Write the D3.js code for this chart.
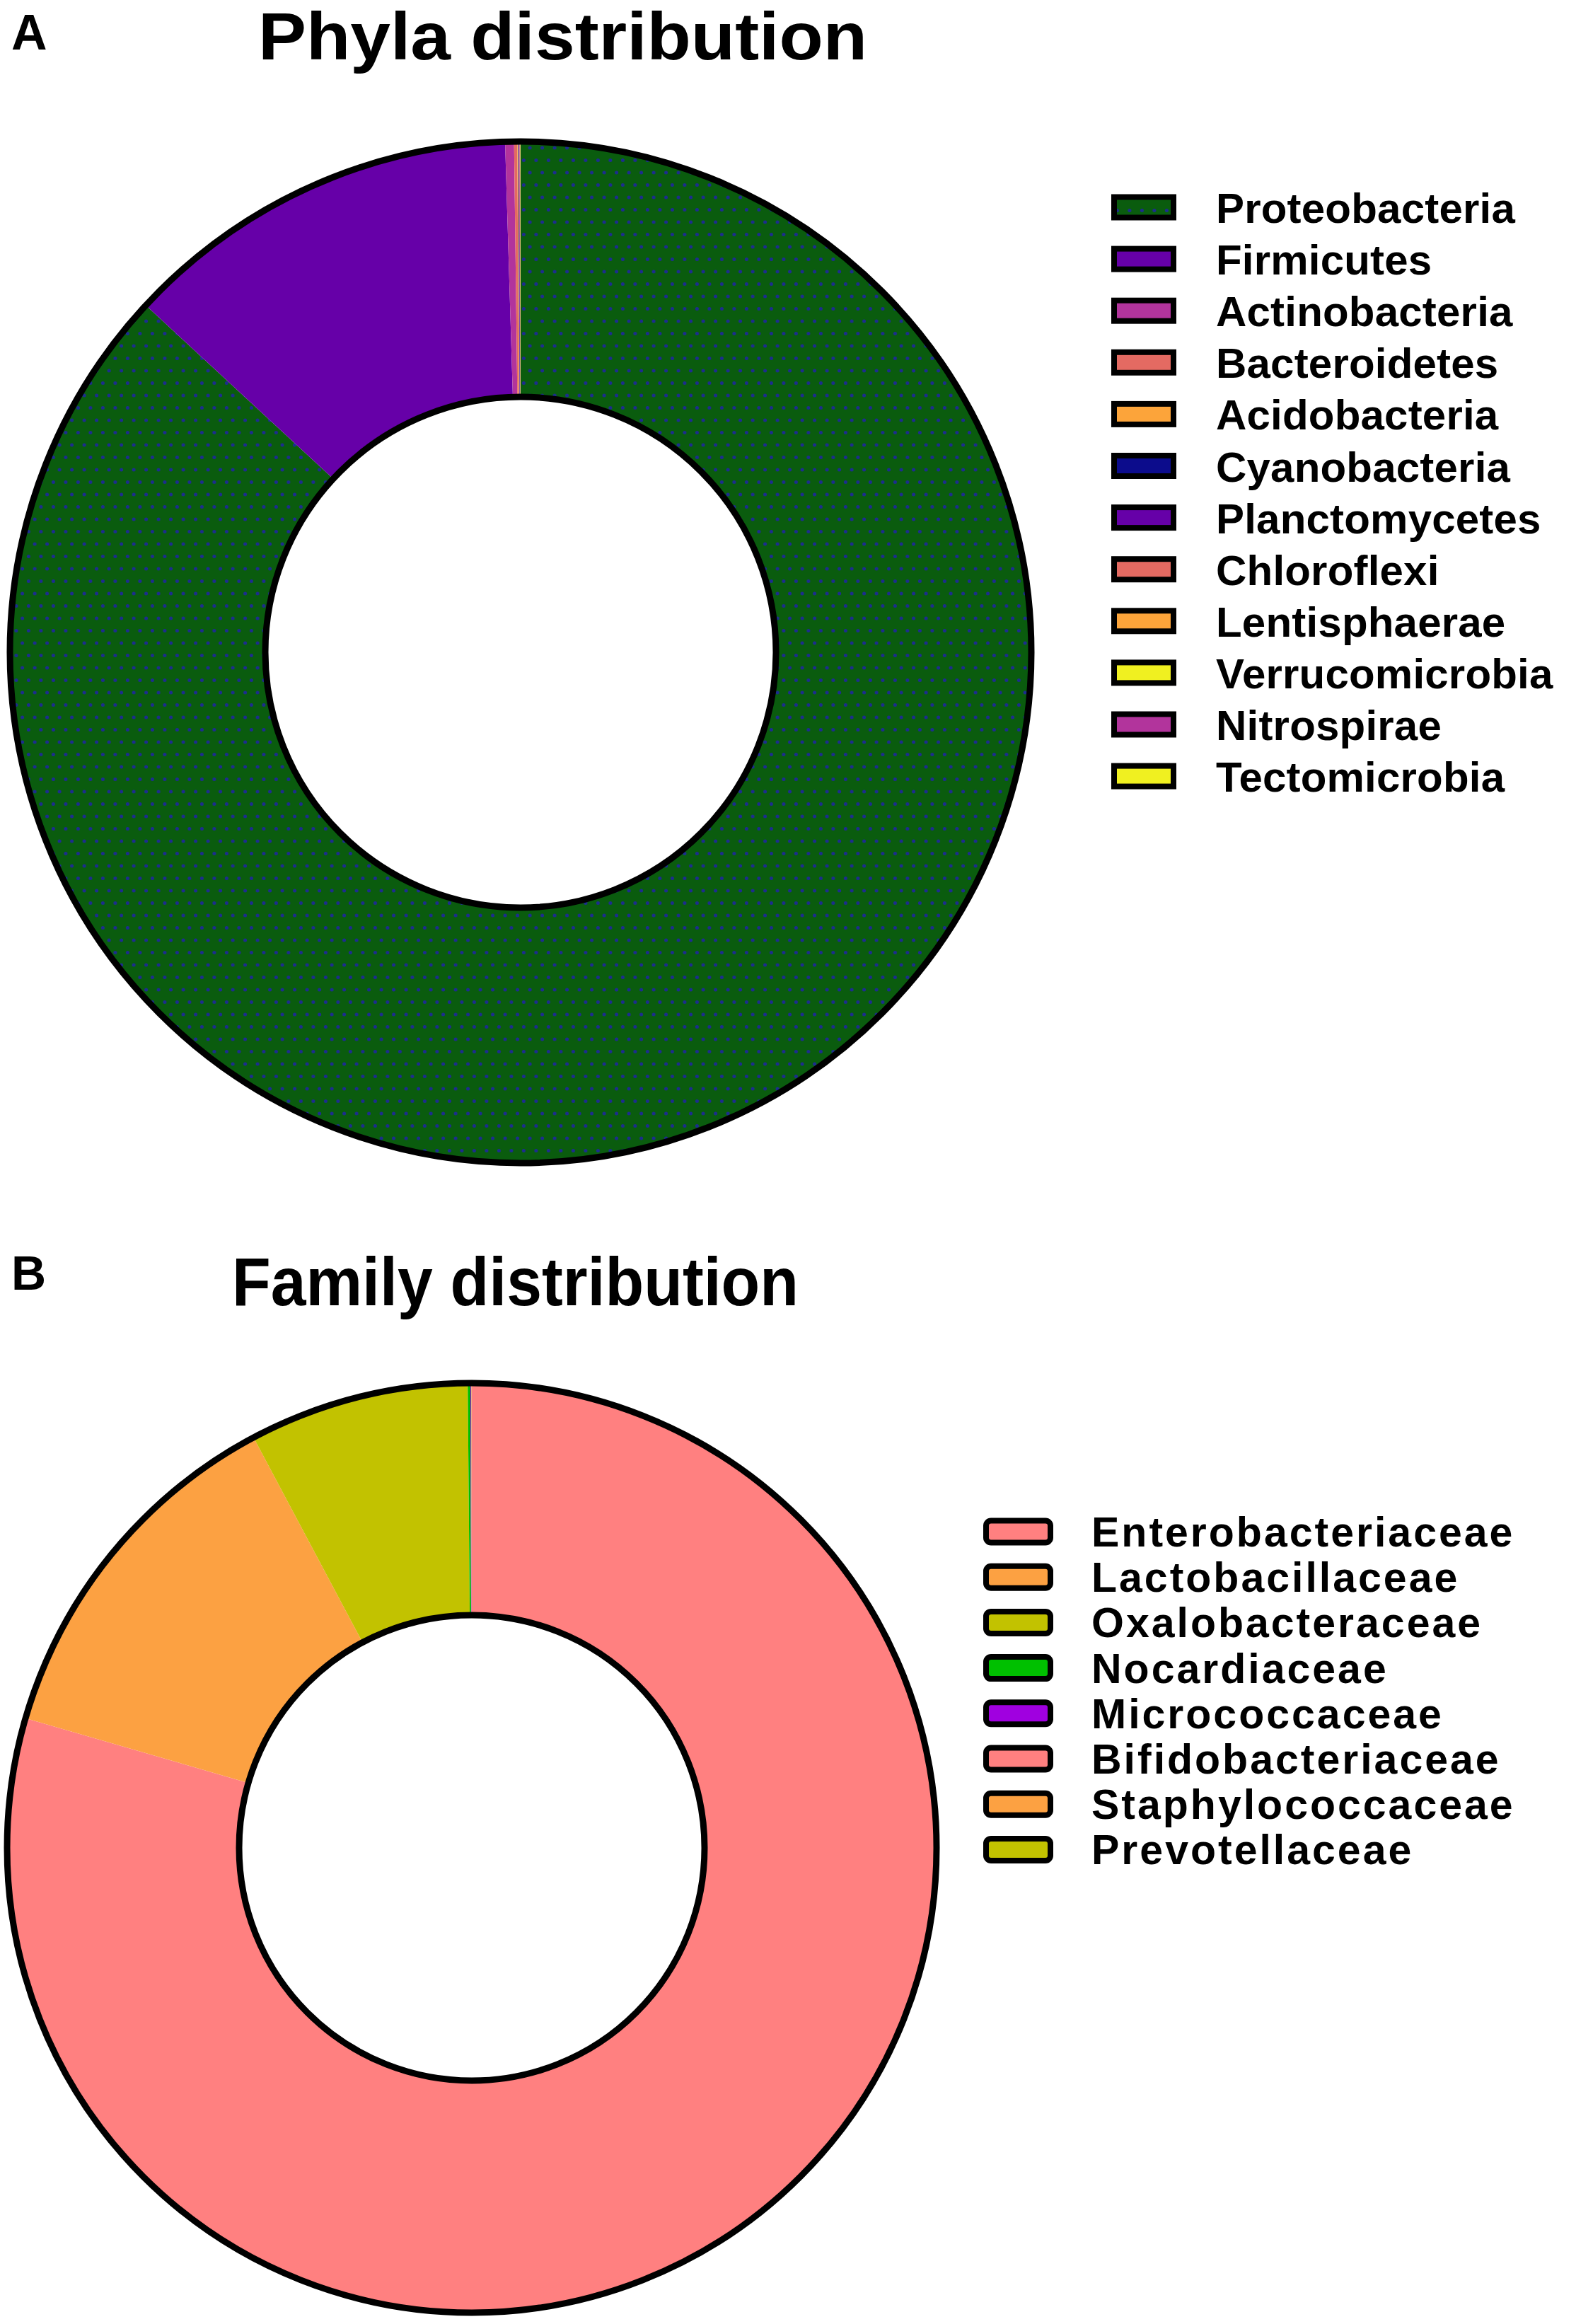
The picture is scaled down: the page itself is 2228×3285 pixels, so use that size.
<!DOCTYPE html>
<html>
<head>
<meta charset="utf-8">
<script src="https://cdn.jsdelivr.net/npm/d3@7"></script>
<style>body{margin:0;background:#fff}</style>
</head>
<body>
<script>
var width = 2228;
var height = 3285;

// panel A: phyla (percent of reads)
var phyla = ["Proteobacteria", "Firmicutes", "Actinobacteria", "Bacteroidetes", "Acidobacteria",
  "Cyanobacteria", "Planctomycetes", "Chloroflexi", "Lentisphaerae", "Verrucomicrobia",
  "Nitrospirae", "Tectomicrobia"];
var phylaValues = [86.875, 12.63, 0.28, 0.1, 0.03, 0.02, 0.02, 0.01, 0.01, 0.005, 0.005, 0.005];
var phylaColors = ["url(#dots)", "#6600a8", "#b2349c", "#e46a62", "#fca43a", "#0c0c8c",
  "#6600a8", "#e46a62", "#fca43a", "#f0f020", "#b2349c", "#f0f020"];

// panel B: families
var families = ["Enterobacteriaceae", "Lactobacillaceae", "Oxalobacteraceae", "Nocardiaceae",
  "Micrococcaceae", "Bifidobacteriaceae", "Staphylococcaceae", "Prevotellaceae"];
var familyValues = [79.5, 12.72, 7.64, 0.09, 0.03, 0.01, 0.005, 0.005];
var familyColors = ["#ff8080", "#fca142", "#c2c200", "#00c000", "#a000e0", "#ff8080", "#fca142", "#c2c200"];

var font = "'Liberation Sans', Arial, Helvetica, sans-serif";

var svg = d3.select("body")
    .append("svg")
    .attr("width", width)
    .attr("height", height);

// dotted fill used for Proteobacteria
var pat = svg.append("defs").append("pattern")
    .attr("id", "dots")
    .attr("patternUnits", "userSpaceOnUse")
    .attr("width", 17.5)
    .attr("height", 35);
pat.append("rect").attr("width", 17.5).attr("height", 35).attr("fill", "#0a5c0e");
pat.append("circle").attr("cx", 4.4).attr("cy", 4.4).attr("r", 2.5).attr("fill", "#1c2c90");
pat.append("circle").attr("cx", 13.1).attr("cy", 21.9).attr("r", 2.5).attr("fill", "#1c2c90");

function donut(values, colors, cx, cy, rOut, rIn) {
  var pie = d3.pie().sort(null).value(function(d) { return d; });
  var arc = d3.arc().innerRadius(rIn).outerRadius(rOut);
  var g = svg.append("g").attr("transform", "translate(" + cx + "," + cy + ")");
  g.selectAll("path")
    .data(pie(values))
    .enter()
    .append("path")
    .attr("fill", function(d, i) { return colors[i]; })
    .attr("d", arc);
  g.append("circle").attr("r", rOut).attr("fill", "none").attr("stroke", "#000").attr("stroke-width", 9);
  g.append("circle").attr("r", rIn).attr("fill", "#fff").attr("stroke", "#000").attr("stroke-width", 9);
}

function legend(names, colors, x, y0, step, w, h, rx, textX, size, spacing, dy) {
  var rows = svg.selectAll(null)
    .data(names)
    .enter().append("g")
    .attr("transform", function(d, i) { return "translate(0," + (y0 + i * step) + ")"; });
  rows.append("rect")
    .attr("x", x)
    .attr("y", -h / 2)
    .attr("width", w)
    .attr("height", h)
    .attr("rx", rx)
    .attr("fill", function(d, i) { return colors[i]; })
    .attr("stroke", "#000")
    .attr("stroke-width", 8);
  rows.append("text")
    .attr("x", textX)
    .attr("y", dy)
    .attr("font-family", font)
    .attr("font-weight", "bold")
    .attr("font-size", size)
    .attr("letter-spacing", spacing)
    .text(function(d) { return d; });
}

function label(txt, x, y, size, len) {
  var t = svg.append("text")
    .attr("x", x)
    .attr("y", y)
    .attr("font-family", font)
    .attr("font-weight", "bold")
    .attr("font-size", size)
    .text(txt);
  if (len) t.attr("textLength", len).attr("lengthAdjust", "spacingAndGlyphs");
}

// A
label("A", 16, 70, 70);
label("Phyla distribution", 365, 84, 94, 861);
donut(phylaValues, phylaColors, 736, 922, 722, 361);
legend(phyla, phylaColors, 1575, 293, 73.1, 84, 29, 0, 1719, 60, 0.2, 22);

// B
label("B", 16, 1823, 68);
label("Family distribution", 328, 1845, 97, 801);
donut(familyValues, familyColors, 667, 2612, 657, 329);
legend(families, familyColors, 1394, 2165, 64.2, 91, 31, 7, 1543, 59, 3, 21);
</script>
</body>
</html>
